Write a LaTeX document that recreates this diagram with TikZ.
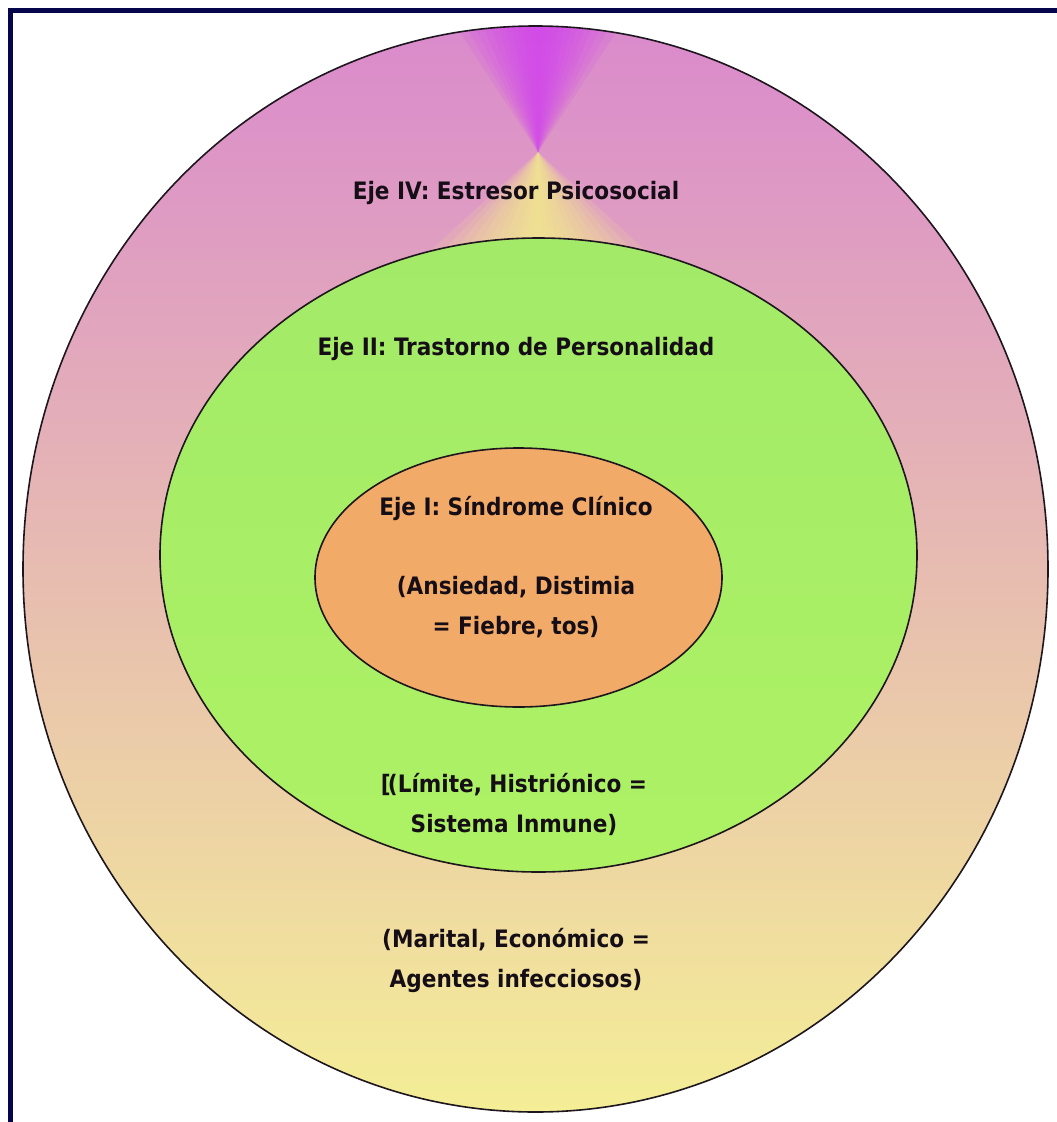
\documentclass[tikz,border=0pt]{standalone}
\usepackage{fontspec}
\newfontfamily\lblfont{DejaVu Sans Condensed}
\usetikzlibrary{shapes.geometric}
\definecolor{frameblue}{RGB}{5,5,75}
\definecolor{pinktop}{RGB}{218,138,204}
\definecolor{peachmid}{RGB}{234,196,172}
\definecolor{yellowbot}{RGB}{244,238,150}
\definecolor{magcone}{RGB}{210,66,240}
\definecolor{yelcone}{RGB}{246,240,140}
\definecolor{greentop}{RGB}{162,234,104}
\definecolor{greenbot}{RGB}{174,242,100}
\definecolor{orangefill}{RGB}{242,170,105}
\definecolor{edgecol}{RGB}{30,22,30}
\definecolor{txtcol}{RGB}{22,14,22}
\tikzset{
  ring/.style={ellipse, draw=edgecol, line width=1.6pt, inner sep=0pt},
  lbl/.style={text=txtcol, align=center, inner sep=0pt,
    font=\lblfont\bfseries\fontsize{24}{40}\selectfont}
}
\begin{document}
\begin{tikzpicture}[x=1pt,y=-1pt]
\useasboundingbox (0,0) rectangle (1057,1122);
\fill[white] (0,0) rectangle (1057,1122);
% frame (left and top only)
\coordinate (fl1) at (10.8,8.3);
\coordinate (fl2) at (10.8,1122);
\coordinate (ft2) at (1057,10.8);
\draw[frameblue, line width=5pt] (fl2) -- (fl1 |- ft2) -- (ft2);
% outer ellipse
\node[ellipse, inner sep=0pt, minimum width=1025pt, minimum height=1086pt,
  top color=pinktop, middle color=peachmid, bottom color=yellowbot] (outerfill) at (535.5,569) {};
\coordinate (apex) at (538,152);
\begin{scope}
  \clip (535.5,569) ellipse [x radius=512.5pt, y radius=543pt];
  \foreach \w in {4,10,16,22,28,35,42,50,58,67,76,86}{
    \fill[magcone, opacity=0.14] (apex) -- (538-\w,20) -- (538+\w,20) -- cycle;
  }
  \foreach \w in {6,14,22,31,40,50,60,71,82,94,106,120}{
    \fill[yelcone, opacity=0.14] (apex) -- (538-\w,262) -- (538+\w,262) -- cycle;
  }
\end{scope}
\node[ring, minimum width=1025pt, minimum height=1086pt] (outer) at (535.5,569) {};
% green ellipse
\node[ring, minimum width=757pt, minimum height=634pt,
  top color=greentop, bottom color=greenbot] (green) at (538.5,555) {};
% orange ellipse
\node[ring, minimum width=407pt, minimum height=259pt,
  fill=orangefill] (orange) at (518.5,577.5) {};
% labels
\node[lbl] (t4) at (516,193) {Eje IV: Estresor Psicosocial};
\node[lbl] (t2) at (516,349) {Eje II: Trastorno de Personalidad};
\node[lbl] (t1) at (516,508) {Eje I: Síndrome Clínico};
\node[lbl] (t1b) at (516,607) {(Ansiedad, Distimia\\= Fiebre, tos)};
\node[lbl] (t2b) at (514,804) {[\kern-0.12em(Límite, Histriónico =\\Sistema Inmune)};
\node[lbl] (t4b) at (516,960) {(Marital, Económico =\\Agentes infecciosos)};
\end{tikzpicture}
\end{document}
